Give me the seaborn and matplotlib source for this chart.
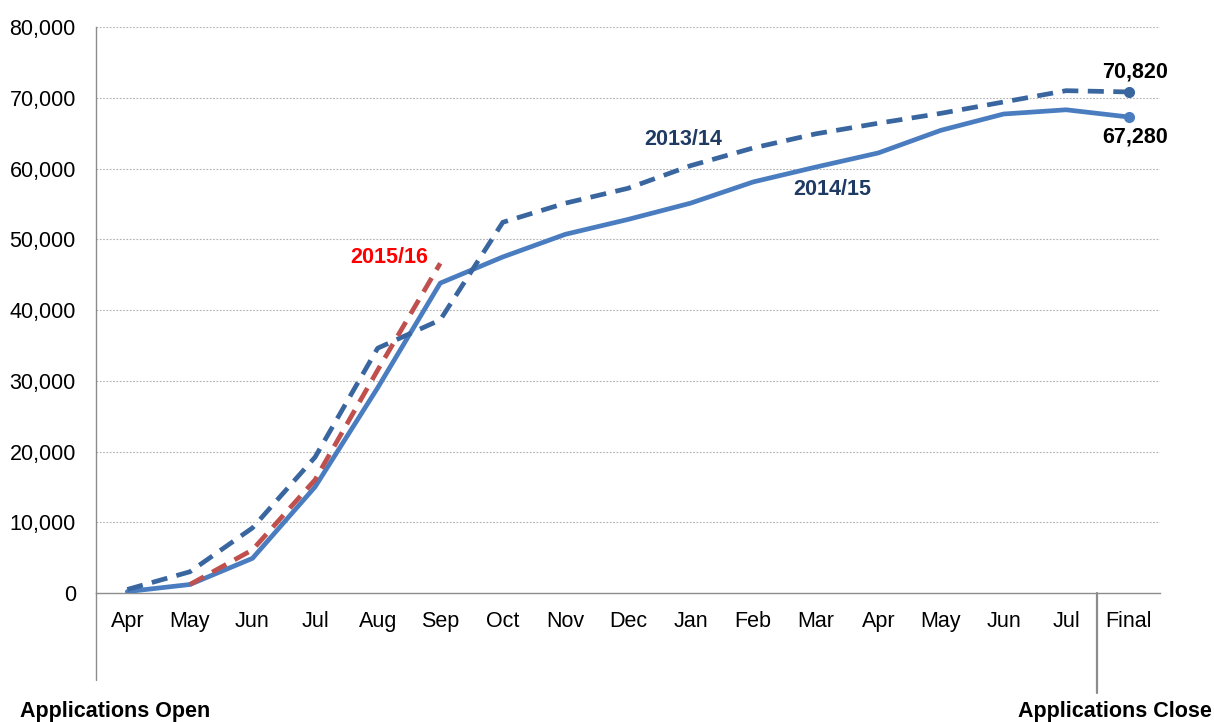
import matplotlib
matplotlib.use("Agg")
import matplotlib.pyplot as plt
import seaborn as sns
import pandas as pd
import numpy as np

months = ["Apr", "May", "Jun", "Jul", "Aug", "Sep", "Oct", "Nov", "Dec",
          "Jan", "Feb", "Mar", "Apr", "May", "Jun", "Jul", "Final"]

y2013 = [500, 3000, 9200, 19200, 34600, 38600, 52400, 55100, 57200,
         60400, 62900, 64900, 66400, 67800, 69400, 71000, 70820]
y2014 = [200, 1200, 4900, 15000, 29000, 43800, 47500, 50700, 52800,
         55100, 58100, 60200, 62200, 65400, 67700, 68300, 67280]
y2015 = [1200, 6100, 16000, 31500, 46600]
x2015_start = 1

yticks = [0, 10000, 20000, 30000, 40000, 50000, 60000, 70000, 80000]

sns.set_theme(style="white")
plt.rcParams['font.family'] = ['Liberation Sans', 'DejaVu Sans']

FS = 15.5

fig = plt.figure(figsize=(12.14, 7.22), dpi=100)
ax = fig.add_axes([96/1214, 1-593/722, (1160-96)/1214, (593-27)/722])

x_all = np.arange(len(months))
df13 = pd.DataFrame({"x": x_all, "y": y2013})
df14 = pd.DataFrame({"x": x_all, "y": y2014})
df15 = pd.DataFrame({"x": np.arange(x2015_start, x2015_start + len(y2015)), "y": y2015})

c13 = "#3A66A0"
c14 = "#4A7DC0"
c15 = "#C0504D"
lab_c = "#1F3B63"

sns.lineplot(data=df14, x="x", y="y", ax=ax, color=c14, linewidth=3.4, sort=False, zorder=3)
sns.lineplot(data=df13, x="x", y="y", ax=ax, color=c13, linewidth=3.4, sort=False, zorder=4)
ax.lines[-1].set_dashes((3.4, 2.0))
sns.lineplot(data=df15, x="x", y="y", ax=ax, color=c15, linewidth=3.4, sort=False, zorder=5)
ax.lines[-1].set_dashes((3.4, 2.0))

# end markers
ax.plot([x_all[-1]], [y2013[-1]], 'o', color=c13, markersize=7, zorder=6)
ax.plot([x_all[-1]], [y2014[-1]], 'o', color=c14, markersize=7, zorder=6)

ax.set_xlim(-0.5, len(months) - 0.5)
ax.set_ylim(0, 80000)
ax.set_yticks(yticks)
ax.set_yticklabels([f"{v:,}" for v in yticks], fontsize=FS, color="black")
ax.set_xticks(x_all)
ax.set_xticklabels(months, fontsize=FS, color="black")
ax.set_xticks(np.arange(-0.5, len(months), 1), minor=True)
ax.tick_params(axis='x', which='major', length=0, pad=13)
ax.tick_params(axis='x', which='minor', length=6, color="#8c8c8c", width=1, direction='out')
ax.tick_params(axis='y', which='major', length=6, color="#8c8c8c", width=1, direction='out', pad=8.5)
ax.set_xlabel("")
ax.set_ylabel("")

for v in yticks[1:]:
    ax.axhline(v, color="#b0b0b0", linewidth=0.8, linestyle=(0, (1.5, 1.5)), zorder=1)

for s in ["top", "right"]:
    ax.spines[s].set_visible(False)
ax.spines["left"].set_color("#8c8c8c")
ax.spines["bottom"].set_color("#8c8c8c")
ax.spines["left"].set_linewidth(1)
ax.spines["bottom"].set_linewidth(1)

# extended vertical lines
ax.plot([-0.5, -0.5], [0, -(680-593)/566], transform=ax.get_xaxis_transform(),
        color="#8c8c8c", linewidth=1, clip_on=False)
ax.plot([len(months) - 1.5, len(months) - 1.5], [0, -(693-593)/566],
        transform=ax.get_xaxis_transform(), color="#8c8c8c", linewidth=1.6, clip_on=False)

# labels
ax.text(8.88, 64100, "2013/14", color=lab_c, fontsize=FS, fontweight="bold", ha="center", va="center")
ax.text(11.27, 57000, "2014/15", color=lab_c, fontsize=FS, fontweight="bold", ha="center", va="center")
ax.text(4.18, 47350, "2015/16", color="#FF0000", fontsize=FS, fontweight="bold", ha="center", va="center")
ax.text(16.1, 73640, f"{y2013[-1]:,}", color="black", fontsize=FS, fontweight="bold", ha="center", va="center")
ax.text(16.1, 64450, f"{y2014[-1]:,}", color="black", fontsize=FS, fontweight="bold", ha="center", va="center")

fig.text(20/1214, 1-712/722, "Applications Open", fontsize=FS, fontweight="bold",
         ha="left", va="center", color="black")
fig.text(1212/1214, 1-712/722, "Applications Close", fontsize=FS, fontweight="bold",
         ha="right", va="center", color="black")

fig.savefig("out.png", dpi=100, facecolor="white")
